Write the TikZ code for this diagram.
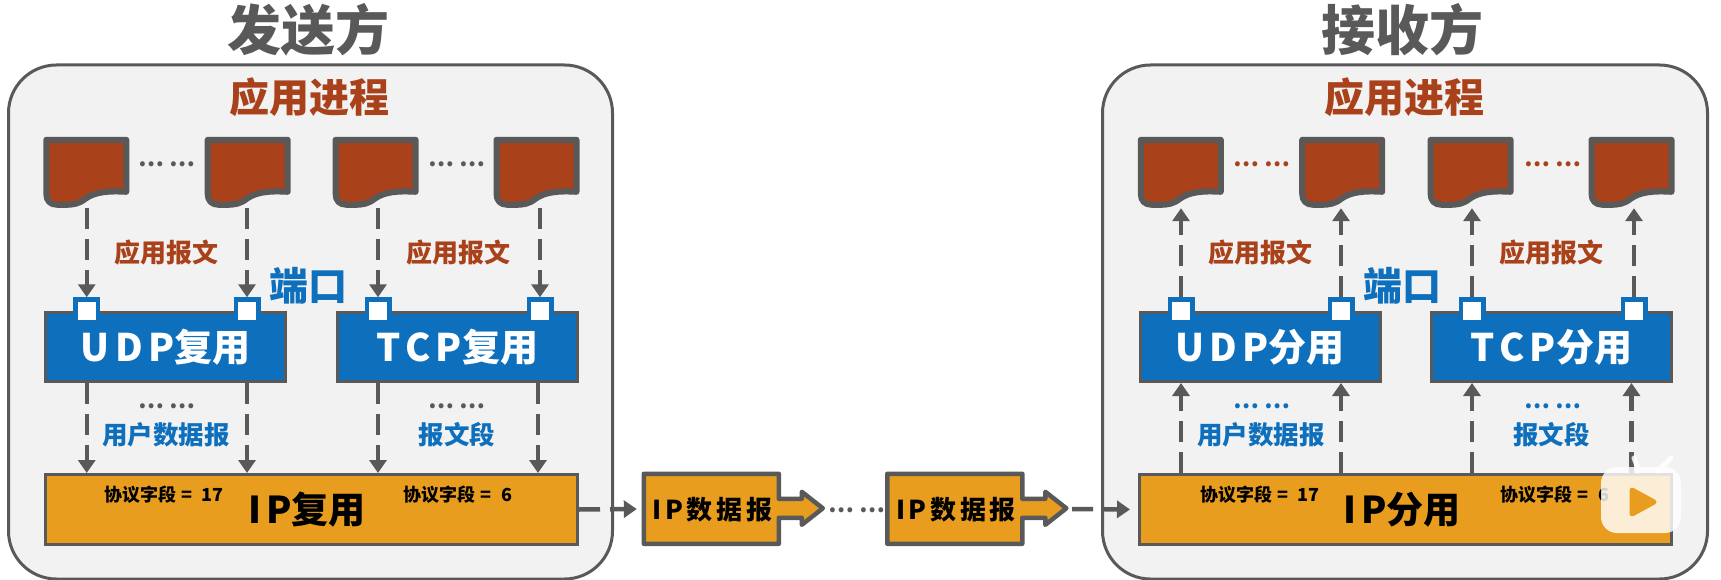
\documentclass[tikz,border=0pt]{standalone}
\usepackage{fontspec}
\setmainfont{Noto Sans CJK SC}
\newfontfamily\widefont[LetterSpace=14]{Noto Sans CJK SC}
\usetikzlibrary{positioning, arrows.meta}

\definecolor{linegray}{RGB}{89,89,89}
\definecolor{hostgray}{RGB}{242,242,242}
\definecolor{msgred}{RGB}{169,65,26}
\definecolor{portblue}{RGB}{14,112,189}
\definecolor{iporange}{RGB}{233,157,30}

\newcommand{\sz}[1]{\fontsize{#1}{#1}\selectfont\bfseries}
\newcommand{\docpath}[1]{\draw[line width=6pt, draw=linegray, fill=msgred, line join=round, shift={(#1.north west)}]
   (3,3) -- (83,3) -- (83,55) .. controls (65,54) and (52,55) .. (42,62) .. controls (36,67) and (30,68) .. (22,68)
   -- (14,68) .. controls (7,68) and (3,64) .. (3,57) -- cycle;}
\newcommand{\pktpath}[1]{\draw[line width=4.5pt, draw=linegray, fill=iporange, line join=round, shift={(#1.north west)}]
   (2,2) -- (137,2) -- (137,27) -- (160,27) -- (160,20) -- (181,36.5) -- (160,53) -- (160,46) -- (137,46)
   -- (137,72) -- (2,72) -- cycle;}
\newcommand{\fieldgap}{\hspace{.28em}}

\tikzset{
   hostbox/.style={draw=linegray, fill=hostgray, line width=3pt, rounded corners=48pt, minimum height=514pt},
   docnode/.style={minimum width=86pt, minimum height=71pt, inner sep=0pt},
   muxbox/.style={draw=linegray, fill=portblue, line width=3pt, minimum width=240pt, minimum height=69pt, text=white, font=\sz{38}},
   ipbox/.style={draw=linegray, fill=iporange, line width=3pt, minimum height=70pt, text=black},
   pktnode/.style={minimum width=139pt, minimum height=74pt, inner sep=0pt},
   portnode/.style={draw=portblue, fill=white, line width=4.5pt, minimum width=22.5pt, minimum height=22.75pt, inner sep=0pt},
   sidetext/.style={text=linegray, font=\sz{54}},
   proctext/.style={text=msgred, font=\sz{40}},
   msgtext/.style={text=msgred, font=\sz{26}},
   segtext/.style={text=portblue, font=\sz{25.5}},
   porttext/.style={text=portblue, font=\sz{39}},
   fieldtext/.style={text=black, font=\sz{18}},
   dashline/.style={color=linegray, line width=4.5pt, dash pattern=on 21pt off 10pt, -{Triangle[length=13pt, width=17pt]}}
}

\begin{document}
\begin{tikzpicture}[x=1pt, y=-1pt, node distance=75pt]
   \useasboundingbox (0,0) rectangle (1721,580);

   % Sender
   \node[hostbox, minimum width=604pt] (sendhost) at (310.5,322) {};
   \node[sidetext] (sendtitle) at (308,30) {发送方};
   \node[proctext] (sendproc) at (309,97) {应用进程};

   \node[docnode] (sd1) at (86.5,172.5) {};
   \node[docnode] (sd2) [right=of sd1] {};
   \node[docnode] (sd3) [right=41.5pt of sd2] {};
   \node[docnode] (sd4) [right=74.5pt of sd3] {};
   \docpath{sd1} \docpath{sd2} \docpath{sd3} \docpath{sd4}
   \node[text=linegray, font=\sz{23}] (sddots1) at (167,164) {… …};
   \node[text=linegray, font=\sz{23}] (sddots2) at (457,164) {… …};

   \node[muxbox] (udpmux) at (165.5,347) {{\widefont UDP}复用};
   \node[muxbox] (tcpmux) at (457.5,347) {{\widefont TCP}复用};
   \node[portnode] (sp1) at (86.75,310.9) {};
   \node[portnode] (sp2) at (247,310.9) {};
   \node[portnode] (sp3) at (378,310.9) {};
   \node[portnode] (sp4) at (540,310.9) {};

   \node[ipbox, minimum width=532pt] (ipmux) at (311.5,509.5) {};
   \node[font=\sz{37}] (ipmuxtext) at (307,510) {{\widefont IP}复用};
   \node[fieldtext] (sf1) at (164,495) {协议字段\fieldgap = \fieldgap 17};
   \node[fieldtext] (sf2) at (458,495) {协议字段\fieldgap = \fieldgap 6};

   \node[msgtext] (sm1) at (166,253) {应用报文};
   \node[msgtext] (sm2) at (458,253) {应用报文};
   \node[porttext] (sport) at (308,286) {端口};
   \node[text=linegray, font=\sz{23}] (sudots1) at (167,406) {… …};
   \node[text=linegray, font=\sz{23}] (sudots2) at (457,406) {… …};
   \node[segtext] (su1) at (166,435) {用户数据报};
   \node[segtext] (su2) at (457,435) {报文段};

   \coordinate (sc4a) at (538,383);
   \coordinate (sc4b) at (538,473);
   \path[dashline]
   (sd1.south -| sp1.north) edge (sp1.north)
   (sd2.south -| sp2.north) edge (sp2.north)
   (sd3.south -| sp3.north) edge (sp3.north)
   (sd4.south -| sp4.north) edge (sp4.north)
   (udpmux.south -| sp1.north) edge (ipmux.north -| sp1.north)
   (udpmux.south -| sp2.north) edge (ipmux.north -| sp2.north)
   (tcpmux.south -| sp3.north) edge (ipmux.north -| sp3.north)
   (sc4a) edge (sc4b);

   % Datagrams on the way
   \node[pktnode] (pkt1) at (711.5,509) {};
   \node[pktnode] (pkt2) at (955,509) {};
   \pktpath{pkt1} \pktpath{pkt2}
   \node[font=\sz{26}] (pkt1text) at (712.5,510) {{\widefont IP数据报}};
   \node[font=\sz{26}] (pkt2text) at (956,510) {{\widefont IP数据报}};
   \node[text=linegray, font=\sz{23}] (pktdots) at (857,510) {… …};

   % Receiver
   \node[hostbox, minimum width=605pt] (recvhost) at (1405,322) {};
   \node[sidetext] (recvtitle) at (1402,30) {接收方};
   \node[proctext] (recvproc) at (1404,97) {应用进程};

   \node[docnode] (rd1) at (1181,172.5) {};
   \node[docnode] (rd2) [right=of rd1] {};
   \node[docnode] (rd3) [right=42pt of rd2] {};
   \node[docnode] (rd4) [right=74.5pt of rd3] {};
   \docpath{rd1} \docpath{rd2} \docpath{rd3} \docpath{rd4}
   \node[text=msgred, font=\sz{23}] (rddots1) at (1262,164) {… …};
   \node[text=msgred, font=\sz{23}] (rddots2) at (1553,164) {… …};

   \node[muxbox] (udpdemux) at (1260,347) {{\widefont UDP}分用};
   \node[muxbox] (tcpdemux) at (1551.5,347) {{\widefont TCP}分用};
   \node[portnode] (rp1) at (1181,310.9) {};
   \node[portnode] (rp2) at (1341,310.9) {};
   \node[portnode] (rp3) at (1472,310.9) {};
   \node[portnode] (rp4) at (1634,310.9) {};

   \node[ipbox, minimum width=532pt] (ipdemux) at (1405.5,509.5) {};
   \node[font=\sz{37}] (ipdemuxtext) at (1402,510) {{\widefont IP}分用};
   \node[fieldtext] (rf1) at (1260,495) {协议字段\fieldgap = \fieldgap 17};
   \node[fieldtext] (rf2) at (1555,495) {协议字段\fieldgap = \fieldgap 6};

   \node[msgtext] (rm1) at (1260,253) {应用报文};
   \node[msgtext] (rm2) at (1551,253) {应用报文};
   \node[porttext] (rport) at (1402,286) {端口};
   \node[text=portblue, font=\sz{23}] (rudots1) at (1262,406) {… …};
   \node[text=portblue, font=\sz{23}] (rudots2) at (1553,406) {… …};
   \node[segtext] (ru1) at (1261,435) {用户数据报};
   \node[segtext] (ru2) at (1551.5,435) {报文段};

   \coordinate (rc4a) at (1631.5,473);
   \coordinate (rc4b) at (1631.5,383);
   \path[dashline]
   (rp1.north) edge (rd1.south -| rp1.north)
   (rp2.north) edge (rd2.south -| rp2.north)
   (rp3.north) edge (rd3.south -| rp3.north)
   (rp4.north) edge (rd4.south -| rp4.north)
   (ipdemux.north -| rp1.north) edge (udpdemux.south -| rp1.north)
   (ipdemux.north -| rp2.north) edge (udpdemux.south -| rp2.north)
   (ipdemux.north -| rp3.north) edge (tcpdemux.south -| rp3.north)
   (rc4a) edge (rc4b);

   % Between the hosts
   \coordinate (pkt2tip) at ([xshift=47.5pt]pkt2.east);
   \path[dashline]
   (ipmux.east) edge[shorten >=5pt] (pkt1.west)
   (pkt2tip) edge[shorten >=8pt] (ipdemux.west);

   % Player badge
   \draw[white, line width=5pt, line cap=round, opacity=.85] (1639,471) -- (1634,458) (1658,471) -- (1671,458);
   \node[fill=white, opacity=.82, rounded corners=16pt, minimum width=80pt, minimum height=66pt] (badge) at (1641,500) {};
   \draw[fill=iporange, draw=iporange, line width=5pt, line join=round] (1632,490) -- (1654,502) -- (1632,514) -- cycle;
\end{tikzpicture}
\end{document}
